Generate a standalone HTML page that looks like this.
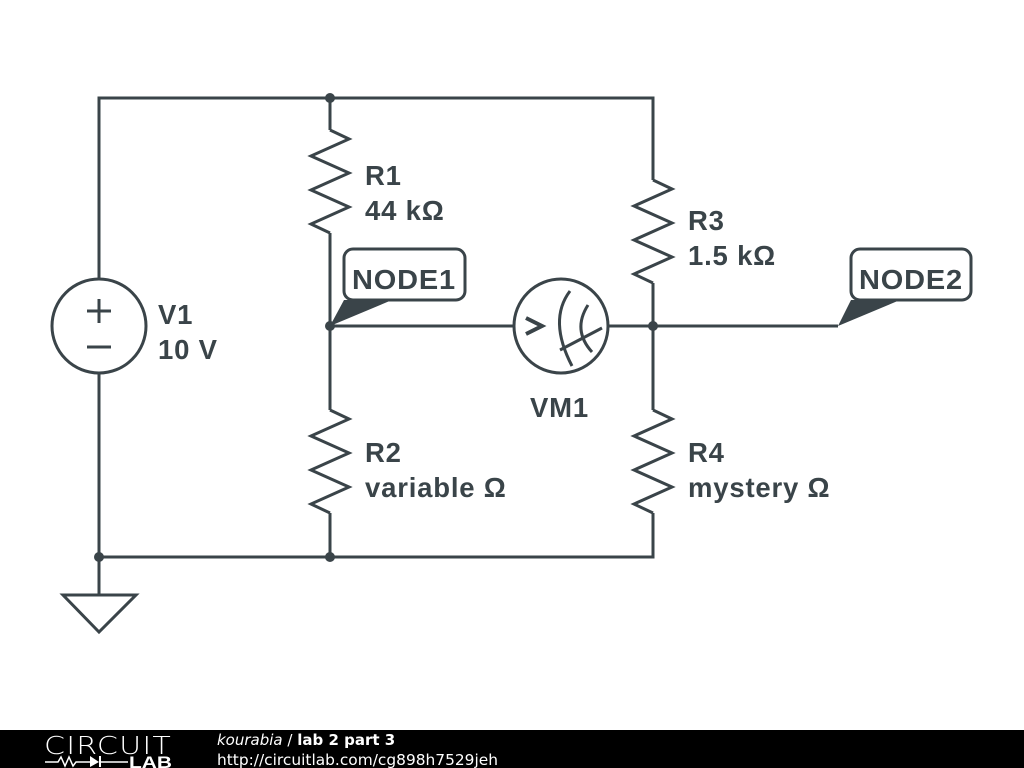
<!DOCTYPE html>
<html><head><style>
html,body{margin:0;padding:0;background:#fff;width:1024px;height:768px;overflow:hidden}
svg{display:block}
.t{font-family:"Liberation Sans",Arial,sans-serif;font-weight:bold;fill:#3a4449;font-size:27.5px;letter-spacing:0.8px}
</style></head><body>
<svg width="1024" height="768" viewBox="0 0 1024 768">
<g stroke="#3a4449" stroke-width="3" fill="none" stroke-linejoin="miter">
<polyline points="99,279 99,98 653,98 653,180"/>
<polyline points="99,373 99,557 653,557 653,518"/>
<line x1="99" y1="557" x2="99" y2="595"/>
<polygon points="63,595 136,595 99,632"/>
<circle cx="99" cy="326" r="47"/>
<line x1="87" y1="311" x2="111" y2="311"/><line x1="99" y1="299" x2="99" y2="323"/>
<line x1="87" y1="347" x2="111" y2="347"/>
<line x1="330" y1="98" x2="330" y2="130"/>
<polyline points="330,130 349,139 311,156 349,173 311,190 349,207 311,224 330,233"/>
<line x1="330" y1="233" x2="330" y2="410"/>
<polyline points="330,410 349,419 311,436 349,453 311,470 349,487 311,504 330,513"/>
<line x1="330" y1="513" x2="330" y2="557"/>
<polyline points="653,180 672,189 634,206 672,223 634,240 672,257 634,274 653,283"/>
<line x1="653" y1="283" x2="653" y2="410"/>
<polyline points="653,410 672,419 634,436 672,453 634,470 672,487 634,504 653,513"/>
<line x1="653" y1="513" x2="653" y2="518"/>
<line x1="330" y1="326" x2="514" y2="326"/>
<line x1="608" y1="326" x2="838" y2="326"/>
<circle cx="561" cy="326" r="47"/>
<polyline points="526,318 542,326 526,334" stroke-width="4"/>
<path d="M570,291 Q548,320 572,366"/>
<path d="M588,305 Q572,330 592,352"/>
<line x1="560" y1="350" x2="602" y2="328"/>
<rect x="344" y="249" width="121" height="51" rx="9"/>
<rect x="851" y="249" width="120" height="51" rx="9"/>
</g>
<g fill="#3a4449">
<polygon points="330,326 344,300 392,300"/>
<polygon points="838,326 851,300 900,300"/>
<circle cx="330" cy="98" r="5"/><circle cx="330" cy="326" r="5"/>
<circle cx="653" cy="326" r="5"/><circle cx="99" cy="557" r="5"/>
<circle cx="330" cy="557" r="5"/>
</g>
<g>
<text class="t" x="158" y="324">V1</text><text class="t" x="158" y="359">10 V</text>
<text class="t" x="365" y="185">R1</text><text class="t" x="365" y="220">44 kΩ</text>
<text class="t" x="688" y="230">R3</text><text class="t" x="688" y="265">1.5 kΩ</text>
<text class="t" x="365" y="462">R2</text><text class="t" x="365" y="497">variable Ω</text>
<text class="t" x="688" y="462">R4</text><text class="t" x="688" y="497">mystery Ω</text>
<text class="t" x="530" y="417">VM1</text>
<text class="t" x="352" y="289" textLength="104" lengthAdjust="spacingAndGlyphs">NODE1</text>
<text class="t" x="859" y="289" textLength="104" lengthAdjust="spacingAndGlyphs">NODE2</text>
</g>
<rect x="0" y="730" width="1024" height="38" fill="#000"/>
<text x="44" y="754" font-family="DejaVu Sans, sans-serif" font-size="25" fill="#fff" font-weight="200" letter-spacing="1" textLength="128" lengthAdjust="spacingAndGlyphs">CIRCUIT</text>
<polyline points="45,762 58,762 61,757 65,766 69,757 73,766 76,762 90,762" stroke="#fff" stroke-width="1.5" fill="none"/>
<polygon points="90,756 90,767 99,762" fill="#fff"/><line x1="100" y1="756" x2="100" y2="767" stroke="#fff" stroke-width="2"/>
<line x1="100" y1="762" x2="128" y2="762" stroke="#fff" stroke-width="1.5"/>
<text x="129" y="768" font-family="Liberation Sans, sans-serif" font-weight="bold" font-size="17" fill="#fff" textLength="43" lengthAdjust="spacingAndGlyphs">LAB</text>
<text x="217" y="745" font-family="DejaVu Sans, sans-serif" font-size="15" fill="#fff"><tspan font-style="italic">kourabia</tspan> / <tspan font-weight="bold">lab 2 part 3</tspan></text>
<text x="217" y="765" font-family="DejaVu Sans, sans-serif" font-size="15" fill="#fff" textLength="281" lengthAdjust="spacingAndGlyphs">http://circuitlab.com/cg898h7529jeh</text>
</svg>
</body></html>
